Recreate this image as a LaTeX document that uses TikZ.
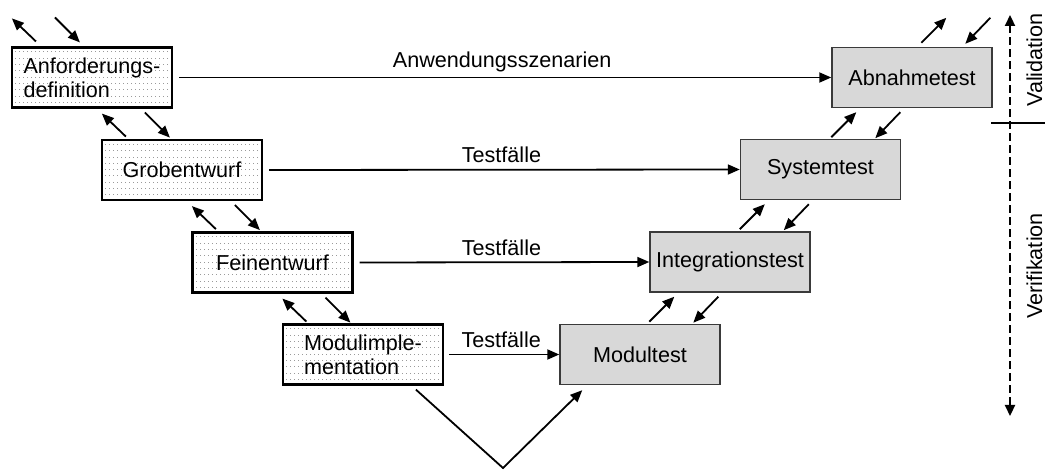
\documentclass[tikz,border=0pt]{standalone}
\usepackage{fontspec}
\setmainfont{Liberation Sans}
\usetikzlibrary{arrows.meta}

\definecolor{testgray}{HTML}{D8D8D8}
\definecolor{testedge}{HTML}{3A3A3A}
\definecolor{dotgray}{HTML}{9A9A9A}

\begin{document}
\begin{tikzpicture}[
  x=1pt, y=-1pt,
  every node/.style={font=\fontsize{21.6}{24}\selectfont, inner sep=0pt},
  phasebox/.style={draw=black, line width=2.2pt, minimum width=160pt, minimum height=60pt,
    fill=white, align=left,
    path picture={
      \foreach \i in {0,...,39}
        \foreach \j in {0,...,9}
          \fill[dotgray] ([shift={(\i*4+3,\j*6.3+4)}]path picture bounding box.north west) rectangle +(0.9,0.9);
    }},
  testbox/.style={draw=testedge, line width=1.4pt, fill=testgray, minimum width=160pt, minimum height=60pt},
  arr/.style={line width=1.8pt, -{Triangle[length=12pt,width=10pt]}},
  flowlabel/.style={above=7pt, xshift=-3pt, anchor=base},
  axis/.style={line width=2.2pt, dash pattern=on 8pt off 4pt,
    {Triangle[length=11pt,width=10pt]}-{Triangle[length=11pt,width=10pt]}},
  axislabel/.style={rotate=90, anchor=base}
]
\useasboundingbox (0,0) rectangle (1045,470);

% design phases (left branch)
\node[phasebox] (anf)  at (92,77.5)  {Anforderungs-\\definition};
\node[phasebox] (grob) at (182,170)  {Grobentwurf};
\node[phasebox] (fein) at (272.5,262.5) {Feinentwurf};
\node[phasebox] (impl) at (363,354.5) {Modulimple-\\mentation};

% test phases (right branch)
\node[testbox] (abn)   at (912,77.5)  {Abnahmetest};
\node[testbox] (sys)   at (820.5,169.5) {Systemtest};
\node[testbox] (integ) at (730,262)   {Integrationstest};
\node[testbox] (mtest) at (640,354.5) {Modultest};

% horizontal links between matching phases
\draw[arr] ([xshift=6pt]anf.east)  -- node[above=10pt, xshift=-3pt, anchor=base] {Anwendungsszenarien} (abn.west);
\draw[arr] ([xshift=6pt]grob.east) -- node[flowlabel] {Testfälle} (sys.west);
\draw[arr] ([xshift=6pt]fein.east) -- node[flowlabel] {Testfälle} (integ.west);
\draw[arr] ([xshift=5pt]impl.east) -- node[flowlabel] {Testfälle} (mtest.west);

% feedback arrows on the left branch
\draw[arr] ([shift={(25,-5)}]anf.north west) -- ([shift={(1,-28)}]anf.north west);
\draw[arr] ([shift={(44,-29)}]anf.north west) -- ([shift={(69,-4)}]anf.north west);
\foreach \u in {anf,grob,fein}{
  \draw[arr] ([shift={(115,28)}]\u.south west) -- ([shift={(91,5)}]\u.south west);
  \draw[arr] ([shift={(134,4)}]\u.south west) -- ([shift={(159,29)}]\u.south west);
}

% feedback arrows on the right branch
\draw[arr] ([shift={(90,-4)}]abn.north west) -- ([shift={(115,-29)}]abn.north west);
\draw[arr] ([shift={(159,-29)}]abn.north west) -- ([shift={(134,-3)}]abn.north west);
\foreach \u in {abn,sys,integ}{
  \draw[arr] ([shift={(0,29)}]\u.south west) -- ([shift={(25,4)}]\u.south west);
  \draw[arr] ([shift={(69,4)}]\u.south west) -- ([shift={(44,30)}]\u.south west);
}

% link from implementation down and up to the module test
\coordinate (vtip) at (503,468);
\draw[arr] ([shift={(134,4)}]impl.south west) -- (vtip) -- ([shift={(23,5)}]mtest.south west);

% validation / verification axis
\coordinate (axtop) at (1010,15);
\coordinate (axbot) at (1010,416);
\draw[axis] (axtop) -- (axbot);
\coordinate (sepl) at (991,123);
\coordinate (sepr) at (1045,123);
\draw[line width=2pt] (sepl) -- (sepr);
\node[axislabel] (val) at (1042,60) {Validation};
\node[axislabel] (ver) at (1042,266) {Verifikation};
\end{tikzpicture}
\end{document}
